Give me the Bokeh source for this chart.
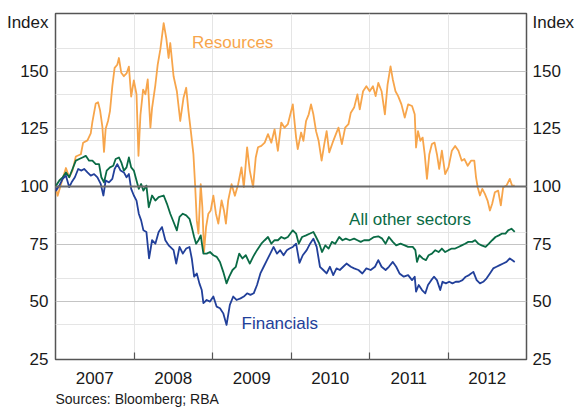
from bokeh.plotting import figure
from bokeh.models import (FixedTicker, LinearAxis, Span, Label, Range1d, Grid, Title,
                          CustomJSTickFormatter)
from bokeh.embed import file_html
from bokeh.resources import INLINE

# ---- data (index, end December 2006 = 100), time in decimal years ----
res_t = [2007.0, 2007.027, 2007.070, 2007.133, 2007.175, 2007.217, 2007.259, 2007.323, 2007.352,
         2007.407, 2007.449, 2007.470, 2007.513, 2007.542, 2007.568, 2007.597, 2007.618, 2007.639,
         2007.669, 2007.694, 2007.724, 2007.753, 2007.787, 2007.808, 2007.838, 2007.871, 2007.905,
         2007.935, 2007.964, 2007.998, 2008.032, 2008.057, 2008.082, 2008.116, 2008.146, 2008.175,
         2008.209, 2008.230, 2008.272, 2008.302, 2008.335, 2008.378, 2008.411, 2008.441, 2008.462,
         2008.504, 2008.546, 2008.589, 2008.631, 2008.665, 2008.694, 2008.724, 2008.757, 2008.778,
         2008.800, 2008.821, 2008.850, 2008.871, 2008.892, 2008.918, 2008.947, 2008.977, 2009.011,
         2009.044, 2009.074, 2009.116, 2009.146, 2009.171, 2009.200, 2009.243, 2009.285, 2009.327,
         2009.369, 2009.399, 2009.441, 2009.475, 2009.517, 2009.551, 2009.580, 2009.622, 2009.665,
         2009.707, 2009.749, 2009.791, 2009.833, 2009.876, 2009.918, 2009.960, 2010.023, 2010.065,
         2010.086, 2010.129, 2010.158, 2010.192, 2010.226, 2010.255, 2010.285, 2010.319, 2010.352,
         2010.390, 2010.424, 2010.454, 2010.487, 2010.530, 2010.572, 2010.605, 2010.648, 2010.690,
         2010.732, 2010.762, 2010.804, 2010.846, 2010.876, 2010.918, 2010.960, 2011.002, 2011.044,
         2011.078, 2011.112, 2011.154, 2011.196, 2011.230, 2011.268, 2011.297, 2011.331, 2011.365,
         2011.407, 2011.449, 2011.492, 2011.542, 2011.576, 2011.593, 2011.618, 2011.648, 2011.677,
         2011.703, 2011.732, 2011.762, 2011.795, 2011.829, 2011.859, 2011.888, 2011.922, 2011.964,
         2012.006, 2012.049, 2012.091, 2012.133, 2012.175, 2012.209, 2012.251, 2012.293, 2012.335,
         2012.357, 2012.378, 2012.407, 2012.437, 2012.470, 2012.504, 2012.534, 2012.563, 2012.597,
         2012.639, 2012.673, 2012.703, 2012.745, 2012.787, 2012.816, 2012.850]
res_v = [100, 96, 101, 108, 104, 107, 113, 114, 119,
         120, 123, 128, 136, 136.5, 133, 126, 115, 125,
         128.4, 132.7, 143.5, 151.4, 152.8, 155.7, 149.3, 147.8, 149,
         152, 139, 146, 140, 113.3, 131, 142, 140, 146.4,
         125.5, 134, 144, 152.8, 159.3, 170.8, 164.3, 155.7, 162.2,
         147.8, 141.3, 128.4, 138.5, 142.8, 132.7, 124, 114, 101,
         85.3, 79.6, 101, 91, 71.6, 82.4, 88.2, 89.6, 96,
         88.2, 83.9, 94, 89.6, 83.9, 94, 101, 96, 101,
         108.3, 99.7, 117, 106.9, 99.7, 112.6, 117, 117.6, 119,
         122.7, 119, 124.8, 115.5, 127.7, 125.5, 127, 135.6, 121.2,
         116.2, 123.4, 119.8, 128.4, 131.3, 135.6, 131.3, 124, 119.8,
         111.2, 118.4, 124, 114.8, 119, 122.7, 125.5, 118.4, 125.5,
         127, 132, 134.2, 139.9, 133.4, 141.3, 143.5, 141.3, 143.5,
         139.2, 144.9, 141.3, 131.3, 144.2, 152.1, 146.4, 141.3, 139.2,
         135.6, 129.9, 135.6, 134.9, 131.3, 116.9, 124, 119.8, 121.2,
         114, 103.3, 114, 118.4, 119, 114, 107.6, 115.5, 105.4,
         108.3, 115.5, 117.6, 115.5, 111.2, 111.9, 109, 111.2, 111.2,
         104, 99.7, 96.1, 99, 96.8, 93.9, 89.6, 92.5, 97.5,
         98.2, 91.8, 99.7, 100.4, 103.3, 100.4, 100.4]

oth_t = [2007.0, 2007.049, 2007.091, 2007.133, 2007.175, 2007.217, 2007.259, 2007.302, 2007.344,
         2007.386, 2007.428, 2007.470, 2007.513, 2007.555, 2007.584, 2007.618, 2007.652, 2007.694,
         2007.736, 2007.766, 2007.808, 2007.838, 2007.871, 2007.905, 2007.935, 2007.964, 2007.998,
         2008.032, 2008.061, 2008.091, 2008.120, 2008.158, 2008.188, 2008.230, 2008.272, 2008.314,
         2008.378, 2008.420, 2008.462, 2008.504, 2008.546, 2008.580, 2008.622, 2008.665, 2008.707,
         2008.736, 2008.766, 2008.791, 2008.821, 2008.850, 2008.884, 2008.926, 2008.968, 2009.011,
         2009.053, 2009.095, 2009.137, 2009.179, 2009.213, 2009.255, 2009.297, 2009.340, 2009.382,
         2009.424, 2009.475, 2009.517, 2009.567, 2009.622, 2009.665, 2009.707, 2009.749, 2009.791,
         2009.833, 2009.876, 2009.918, 2009.960, 2010.023, 2010.065, 2010.099, 2010.141, 2010.192,
         2010.243, 2010.285, 2010.319, 2010.361, 2010.395, 2010.437, 2010.479, 2010.521, 2010.563,
         2010.614, 2010.656, 2010.698, 2010.749, 2010.804, 2010.846, 2010.888, 2010.930, 2010.994,
         2011.057, 2011.112, 2011.162, 2011.205, 2011.247, 2011.297, 2011.340, 2011.395, 2011.449,
         2011.492, 2011.551, 2011.584, 2011.605, 2011.635, 2011.677, 2011.719, 2011.753, 2011.795,
         2011.838, 2011.880, 2011.922, 2011.964, 2012.006, 2012.049, 2012.091, 2012.133, 2012.175,
         2012.217, 2012.259, 2012.310, 2012.344, 2012.386, 2012.428, 2012.479, 2012.521, 2012.563,
         2012.605, 2012.648, 2012.690, 2012.732, 2012.766, 2012.808, 2012.850]
oth_v = [100, 102.6, 104, 106.1, 104, 107.6, 111.2, 111.9, 112.6,
         113.3, 111.2, 111.2, 109.7, 109.7, 104, 101.8, 106.9, 108.3,
         109, 111.9, 112.6, 110.5, 106.9, 108.3, 112.6, 108.3, 106.9,
         102.6, 99, 101.1, 98.2, 100.4, 91, 96.1, 93.9, 95.4,
         96.1, 92.5, 88.2, 84.6, 81, 86.8, 88.2, 87.5, 86,
         82.4, 78.1, 75.2, 76.7, 78.8, 70.9, 70.9, 71.6, 70.2,
         69.5, 67.3, 63, 58, 60.9, 63.8, 65.2, 70.9, 68.8,
         70.2, 66.6, 69.5, 72.4, 75.2, 76.7, 78.1, 75.2, 76.7,
         76.7, 78.1, 77.4, 78.1, 81, 79.6, 75.2, 78.1, 78.8,
         79.6, 80.3, 78.1, 75.2, 71.6, 74.5, 73.1, 76, 75.2,
         78.1, 76.7, 77.4, 76.7, 77.4, 76.7, 76, 76.7, 76.7,
         78.1, 78.4, 77.4, 75.2, 78.1, 76, 74.5, 75.2, 74.5,
         73.8, 73.8, 72.4, 67.3, 70.2, 68.8, 68.1, 70.2, 70.9,
         72.4, 71.6, 73.1, 71.6, 72.4, 73.1, 73.1, 73.8, 74.5,
         75.2, 76, 76, 76.7, 75.2, 74.5, 73.8, 75.2, 76.7,
         78.1, 78.8, 79.6, 79.6, 81, 81.7, 80.3]

fin_t = [2007.0, 2007.006, 2007.049, 2007.091, 2007.133, 2007.175, 2007.205, 2007.247, 2007.289,
         2007.331, 2007.365, 2007.407, 2007.449, 2007.492, 2007.534, 2007.576, 2007.610, 2007.639,
         2007.681, 2007.724, 2007.753, 2007.787, 2007.829, 2007.871, 2007.905, 2007.935, 2007.964,
         2007.998, 2008.032, 2008.061, 2008.091, 2008.120, 2008.158, 2008.192, 2008.230, 2008.272,
         2008.314, 2008.357, 2008.399, 2008.441, 2008.462, 2008.504, 2008.538, 2008.580, 2008.622,
         2008.665, 2008.707, 2008.736, 2008.766, 2008.800, 2008.833, 2008.863, 2008.884, 2008.926,
         2008.968, 2009.011, 2009.053, 2009.095, 2009.137, 2009.179, 2009.221, 2009.264, 2009.306,
         2009.357, 2009.399, 2009.441, 2009.483, 2009.525, 2009.567, 2009.610, 2009.652, 2009.694,
         2009.736, 2009.778, 2009.821, 2009.863, 2009.905, 2009.947, 2009.981, 2010.023, 2010.065,
         2010.108, 2010.150, 2010.200, 2010.243, 2010.285, 2010.327, 2010.369, 2010.411, 2010.454,
         2010.496, 2010.538, 2010.580, 2010.622, 2010.665, 2010.707, 2010.762, 2010.804, 2010.859,
         2010.909, 2010.960, 2011.015, 2011.070, 2011.112, 2011.154, 2011.205, 2011.247, 2011.297,
         2011.340, 2011.382, 2011.437, 2011.492, 2011.542, 2011.576, 2011.593, 2011.627, 2011.669,
         2011.711, 2011.745, 2011.787, 2011.821, 2011.859, 2011.901, 2011.930, 2011.973, 2012.015,
         2012.057, 2012.099, 2012.141, 2012.184, 2012.226, 2012.268, 2012.323, 2012.365, 2012.407,
         2012.449, 2012.492, 2012.534, 2012.576, 2012.618, 2012.660, 2012.703, 2012.745, 2012.787,
         2012.816, 2012.850]
fin_v = [100, 98.2, 100.4, 103.3, 104.7, 99.7, 101.8, 104, 107.6,
         106.9, 107.6, 106.1, 104.7, 105.4, 104, 101.1, 96.1, 102.6,
         101.8, 103.3, 107.6, 109.7, 106.9, 106.1, 104, 105.4, 99,
         96.1, 93.9, 88.2, 85.3, 81, 80.3, 68.8, 76.7, 75.2,
         80.3, 82.4, 76.7, 74.5, 73.8, 72.4, 66.6, 73.8, 70.9,
         73.1, 73.8, 68.8, 60.9, 62.3, 58, 55.1, 49.4, 50.8,
         50.1, 52.3, 47.9, 47.2, 45, 40, 48.7, 52.3, 50.8,
         51.5, 52.3, 53.7, 53, 53.7, 57.3, 62.3, 65.2, 68.1,
         70.9, 73.8, 70.9, 72.4, 70.2, 72.4, 73.1, 73.8, 75.2,
         66.9, 70.2, 72.4, 75.2, 77.4, 73.8, 65.2, 63.8, 62.3,
         65.2, 61.6, 64.5, 63.8, 65.2, 66.6, 65.2, 64.5, 63.8,
         62.3, 64.5, 63.8, 65.2, 68.1, 65.2, 63.8, 65.2, 67.3,
         65.2, 62.3, 60.9, 61.6, 59.4, 60.9, 54.4, 57.3, 55.1,
         53.7, 57.3, 59.4, 60.9, 59.4, 55.1, 58.7, 58, 58.7,
         58, 58.7, 58.7, 59.4, 60.9, 61.6, 63, 59.4, 58,
         58.7, 60.2, 62.3, 64.5, 65.2, 65.9, 66.6, 67.3, 68.8,
         68.1, 67.3]

y_ticks = [25, 50, 75, 100, 125, 150]
grid_levels = [50, 75, 125, 150]
base_level = 100
year_labels = ["2007", "2008", "2009", "2010", "2011", "2012"]
unit_label = "Index"
source_note = "Sources: Bloomberg; RBA"
first_year, last_year = 2007, 2013
y_min, y_max = 25, 175

FONT = "Liberation Sans"
TXT = "#1a1a1a"
ORANGE = "#F7A54B"
GREEN = "#0A6B45"
BLUE = "#22409A"

W, H = 577, 408
BL, BR, BT, BB = 55, 49, 13, 46
frame_h = H - BT - BB

p = figure(width=W, height=H, output_backend="svg", toolbar_location=None,
           x_range=Range1d(first_year, last_year), y_range=Range1d(y_min, y_max),
           x_axis_location=None, y_axis_location=None,
           min_border_left=BL, min_border_right=BR, min_border_top=BT, min_border_bottom=BB)
p.outline_line_color = "#555555"
p.outline_line_width = 1.5
p.background_fill_color = "white"
p.border_fill_color = "white"

# grid lines
p.add_layout(Grid(dimension=1, ticker=FixedTicker(ticks=grid_levels),
                  grid_line_color="#c4c4c4", grid_line_width=1.2))
p.add_layout(Span(location=base_level, dimension="width", line_color="#6b6b6b", line_width=2))

# x axis: labels centred in each year, tick marks at year boundaries
year_centres = [first_year + i + 0.5 for i in range(len(year_labels))]
year_bounds = [first_year + i for i in range(1, len(year_labels))]
xaxis = LinearAxis(ticker=FixedTicker(ticks=year_centres, minor_ticks=year_bounds),
                   formatter=CustomJSTickFormatter(args=dict(labels=year_labels, start=first_year),
                                                   code="return labels[Math.floor(tick - start)];"),
                   axis_line_color=None, major_tick_line_color=None,
                   minor_tick_in=7, minor_tick_out=0, minor_tick_line_color="#555555",
                   minor_tick_line_width=1.2,
                   major_label_standoff=6,
                   major_label_text_font=FONT, major_label_text_font_size="17px",
                   major_label_text_color=TXT)
p.add_layout(xaxis, "below")

# y axes (both sides); the unit label "Index" sits just under the top of the frame
index_pos = y_max - 9 * (y_max - y_min) / frame_h
overrides = {index_pos: unit_label}
for side, standoff in (("left", 7), ("right", 6)):
    ax = LinearAxis(ticker=FixedTicker(ticks=y_ticks + [index_pos]), axis_line_color=None,
                    major_tick_line_color=None, minor_tick_line_color=None,
                    major_tick_out=0, major_tick_in=0,
                    major_label_overrides=overrides,
                    major_label_standoff=standoff,
                    major_label_text_font=FONT, major_label_text_font_size="17px",
                    major_label_text_color=TXT)
    p.add_layout(ax, side)

# source note under the axis
p.add_layout(Title(text=source_note, align="left", standoff=4, text_font=FONT,
                   text_font_size="14px", text_font_style="normal", text_color=TXT), "below")

# series
p.line(res_t, res_v, line_color=ORANGE, line_width=1.8, line_join="round")
p.line(oth_t, oth_v, line_color=GREEN, line_width=1.8, line_join="round")
p.line(fin_t, fin_v, line_color=BLUE, line_width=1.8, line_join="round")

# series labels
for txt, x, y, col in (("Resources", 2008.74, 162.5, ORANGE),
                       ("All other sectors", 2010.74, 85.6, GREEN),
                       ("Financials", 2009.37, 40.5, BLUE)):
    p.add_layout(Label(x=x, y=y, text=txt, text_color=col, text_font=FONT,
                       text_font_size="17px", text_baseline="middle", text_align="left"))

open("out.html", "w").write(file_html(p, INLINE))
